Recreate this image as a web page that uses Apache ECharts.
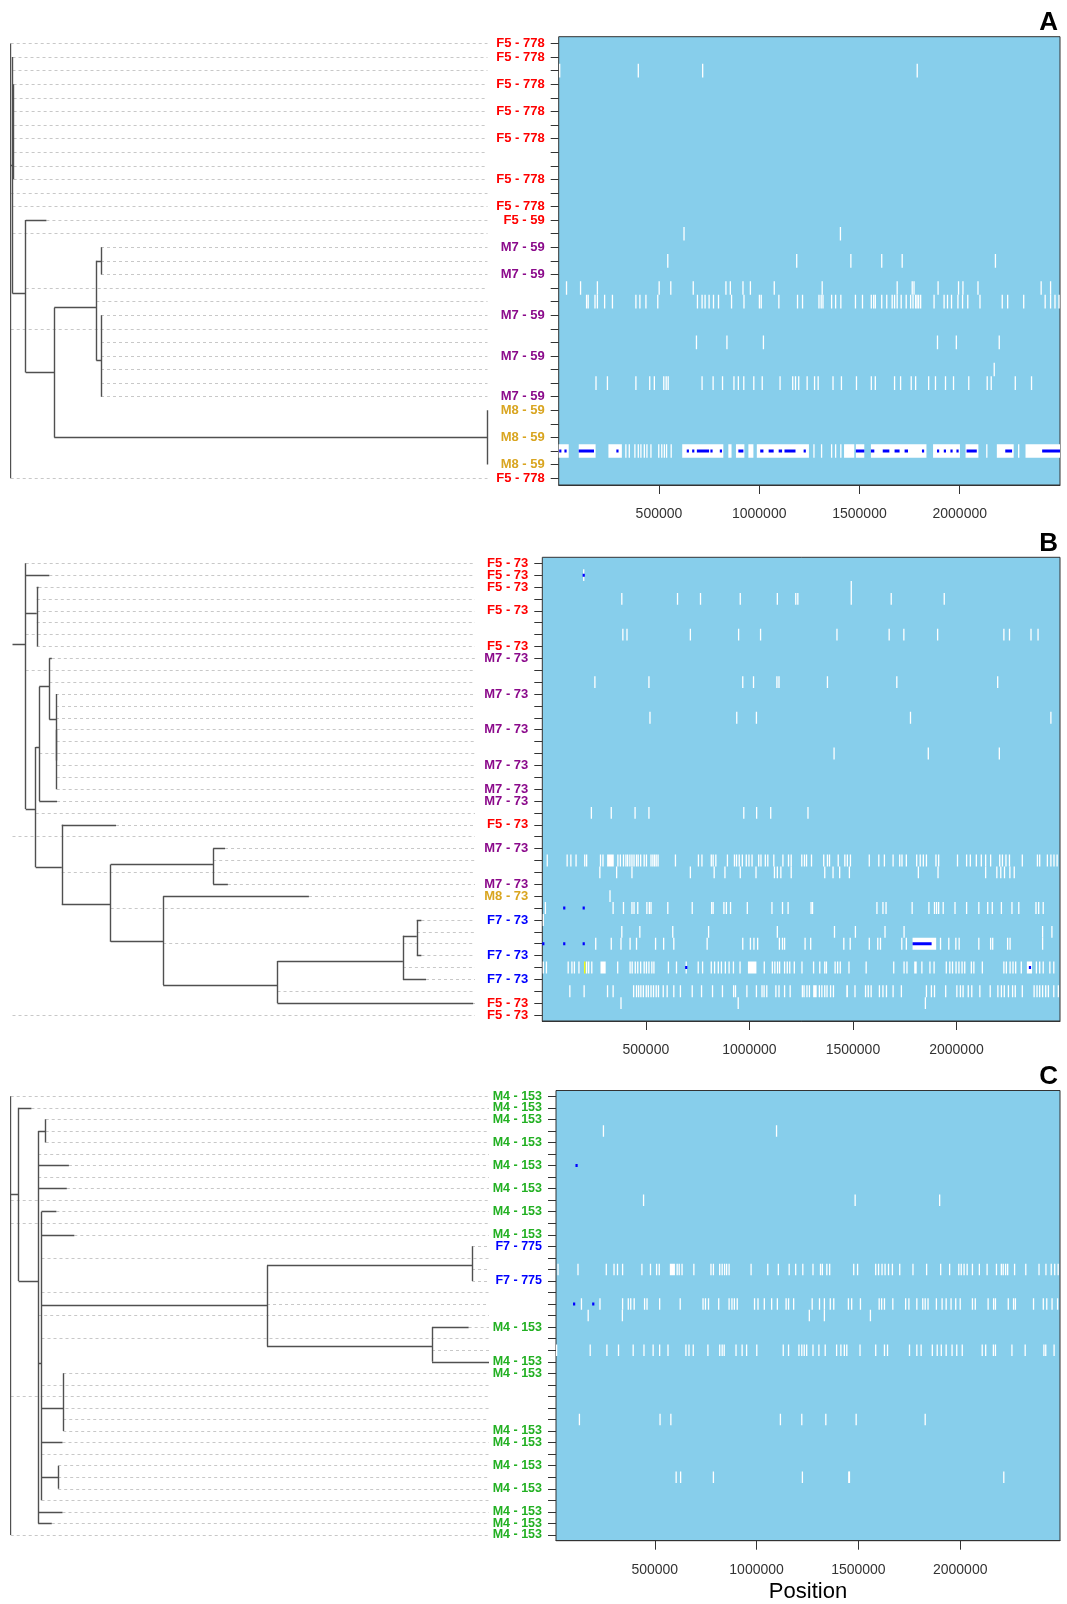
<!DOCTYPE html>
<html>
<head>
<meta charset="utf-8">
<script src="https://cdn.jsdelivr.net/npm/echarts@6/dist/echarts.min.js"></script>
<style>
  html, body { margin: 0; padding: 0; background: #ffffff; }
  #chart { width: 1067px; height: 1604px; }
</style>
</head>
<body>
<div id="chart"></div>
<script>
// ---------- row labels (top to bottom), '' = unlabeled row ----------
const labelsA = ['F5 - 778','F5 - 778','','F5 - 778','','F5 - 778','','F5 - 778','','','F5 - 778','','F5 - 778',
  'F5 - 59','','M7 - 59','','M7 - 59','','','M7 - 59','','','M7 - 59','','','M7 - 59',
  'M8 - 59','','M8 - 59','','M8 - 59','F5 - 778'];
const labelsB = ['F5 - 73','F5 - 73','F5 - 73','','F5 - 73','','','F5 - 73','M7 - 73','','','M7 - 73','','',
  'M7 - 73','','','M7 - 73','','M7 - 73','M7 - 73','','F5 - 73','','M7 - 73','','','M7 - 73','M8 - 73','',
  'F7 - 73','','','F7 - 73','','F7 - 73','','F5 - 73','F5 - 73'];
const labelsC = ['M4 - 153','M4 - 153','M4 - 153','','M4 - 153','','M4 - 153','','M4 - 153','','M4 - 153','',
  'M4 - 153','F7 - 775','','','F7 - 775','','','','M4 - 153','','','M4 - 153','M4 - 153','','','','',
  'M4 - 153','M4 - 153','','M4 - 153','','M4 - 153','','M4 - 153','M4 - 153','M4 - 153'];

// ---------- genome axis ----------
const positionTicks = [500000, 1000000, 1500000, 2000000];
const rangeA = [0, 2500000];
const rangeB = [0, 2500000];
const rangeC = [15000, 2490000];

// ---------- variant sites per row, in kb: number = site, [a, b] = run ----------
const whiteA = [
  [2, [5, 397, 718, 1788]],
  [14, [625, 1405]],
  [16, [544, 1187, 1457, 1611, 1713, 2178]],
  [18, [39,109,193,501,559,671,834,856,919,956,1075,1314,1688,1763,1772,1892,1994,2016,2091,2406,2453]],
  [19, [139,147,181,193,229,268,385,405,435,494,692,715,730,750,772,797,862,924,1001,1010,1098,1191,1216,1298,
        1309,1318,1361,1381,1407,1480,1515,1559,1571,1579,1611,1636,1663,1675,1688,1708,1733,1755,1767,1780,
        1787,1795,1805,1872,1922,1939,1959,1991,2014,2040,2101,2212,2239,2319,2426,2453,2475,2495]],
  [22, [687, 839, 1021, 1889, 1983, 2197]],
  [24, [2172]],
  [25, [186,243,385,454,477,524,536,546,715,770,817,874,896,923,973,1015,1104,1167,1181,1197,1239,1276,1294,
        1368,1410,1485,1559,1579,1675,1705,1758,1780,1845,1879,1929,1969,2045,2137,2157,2277,2358]],
  [30, [[0,50],[100,184],[248,315],335,352,380,397,410,427,440,460,499,514,527,538,561,[616,821],[846,862],
        [884,926],[946,971],[988,1248],1273,1311,1361,1381,1407,[1423,1474],[1482,1524],[1557,1834],
        [1867,2001],[2029,2093],2135,[2185,2269],2294,[2328,2500]]]
];
const blueA = [
  [30, [8,34,[100,176],293,[640,648],[667,675],[689,750],762,809,[896,921],[1005,1021],[1047,1072],
        [1097,1114],[1126,1181],[1223,1231],[1482,1524],[1557,1574],[1616,1649],[1675,1700],[1725,1742],
        1817,1892,1926,1959,1989,[2034,2085],[2227,2261],[2411,2500]]]
];

const whiteB = [
  [1, [200]],
  [2, [1492]],
  [3, [384,653,764,956,1135,1224,1234,1492,1685,1941]],
  [6, [389,409,715,948,1054,1423,1675,1746,1909,2229,2256,2360,2394]],
  [10, [254,515,968,1020,1133,1143,1377,1712,2199]],
  [13, [520,939,1034,1778,2456]],
  [16, [1409,1864,2207]],
  [21, [237,333,448,515,973,1035,1103,1283]],
  [25, [24,120,138,163,205,214,281,293,[313,345],365,377,392,404,412,423,433,443,455,463,475,492,503,525,534,
        542,550,559,643,754,771,816,825,838,894,928,938,951,966,985,998,1013,1045,1056,1077,1089,1118,1162,
        1189,1202,1253,1266,1276,1300,1359,1377,1387,1429,1461,1473,1488,1579,1625,1652,1694,1726,1737,1758,
        1808,1825,1840,1855,1901,1914,2005,2049,2067,2096,2120,2141,2165,2209,2222,2239,2256,2318,2391,2402,
        2439,2456,2471,2486]],
  [26, [278,359,433,715,830,882,956,1032,1121,1135,1152,1202,1364,1404,1436,1483,1816,1911,2141,2195,2214,
        2232,2258,2279]],
  [28, [327]],
  [29, [15,342,392,433,443,461,505,517,525,606,724,818,825,877,889,909,990,1109,1160,1187,1298,1305,1616,
        1645,1660,1786,1867,1894,1904,1914,1936,1993,2049,2108,2151,2173,2217,2268,2301,2384,2397,2419]],
  [30, [5]],
  [31, [384,471,630,803,1135,1411,1512,1655,1747,2416,2461]],
  [32, [258,333,380,424,455,547,586,635,796,968,1005,1022,1040,1145,1160,1170,1269,1296,1456,1487,1579,1620,
        1633,1736,1758,[1788,1902],1923,1963,1997,2013,2108,2165,2175,2247,2259,2416]],
  [34, [5,20,125,143,155,177,214,224,239,[281,306],364,424,434,449,461,475,492,503,515,529,539,609,648,695,
        753,774,816,832,850,865,884,902,923,955,[993,1034],1072,1111,1123,1136,1146,1170,1183,1195,1217,1254,
        1310,1340,1364,1372,1414,1426,1439,1481,1564,1697,1747,1761,[1796,1808],1833,1872,1892,1951,1968,
        1981,1998,2012,2027,2040,2072,2084,2125,2229,2241,2259,2273,2286,2313,[2340,2365],2386,2402,2419,
        2451,2470]],
  [36, [133,202,315,342,441,455,465,476,488,502,512,525,537,550,561,584,603,635,667,724,769,822,870,924,933,
        988,1034,1061,1071,1084,1128,1143,1170,1197,1256,1264,1278,1290,[1308,1325],1338,1350,1364,1375,
        1392,1406,[1468,1476],1510,1561,1574,1588,1628,1645,1662,1694,1734,1855,1879,1894,1948,2002,2019,
        2032,2057,2074,2113,2163,2200,2217,2231,2251,2271,2284,2318,2375,2389,2402,2416,2431,2444,2470,2492]],
  [37, [380, 946, 1850]]
];
const blueB = [
  [1, [200]],
  [29, [106, 200]],
  [32, [5, 106, 200, [1788, 1880]]],
  [34, [695, 2355]]
];
const yellowB = [
  [34, [205]]
];

const whiteC = [
  [3, [248, 1098]],
  [9, [445, 1484, 1899]],
  [15, [25,123,262,300,317,342,437,479,509,522,[574,599],610,620,634,692,776,788,819,831,843,853,865,973,
        1055,1107,1160,1192,1227,1277,1314,1323,1345,1359,1477,1496,1585,1599,1616,1631,1648,1667,1703,1768,
        1835,1904,1948,1993,2005,2019,2034,2060,2094,2132,2178,2202,2211,2223,2233,2267,2322,2387,2421,2447,
        2464,2481]],
  [18, [140,231,342,370,382,399,450,462,524,625,737,749,764,814,865,879,891,905,990,1007,1038,1074,1102,
        1145,1157,1182,1273,1309,1333,1362,1379,1451,1467,1510,1602,1614,1628,1669,1732,1748,1787,1816,1828,
        1842,1883,1911,1931,1955,1978,2000,2060,2074,2137,2164,2173,2236,2262,2271,2360,2408,2425,2451,2478]],
  [19, [173, 341, 1259, 1333, 1559]],
  [22, [18,183,265,322,394,447,492,524,565,653,668,689,761,819,831,841,899,929,951,1001,1131,1157,1208,1222,
        1234,1246,1277,1306,1337,1393,1414,1431,1443,1508,1585,1628,1643,1751,1787,1808,1863,1887,1907,1931,
        1960,1983,2010,2108,2125,2163,2173,2254,2319,2411,2420,2461]],
  [28, [130, 526, 579, 1117, 1222, 1340, 1489, 1828]],
  [33, [605, 627, 788, 1225, 1453, 1456, 2214]]
];
const blueC = [
  [6, [116]],
  [18, [104, 198]]
];

// ---------- clustering trees: node = {h, c}, leaf = row or [row, tipHeight] ----------
const treeA = {h: 0, c: [
  0,
  {h: 0.38, c: [1, 2, {h: 0.61, c: [3, 4, 5, 6, 7, 8, 9, 10]}, 12, 14,
    {h: 3.15, c: [[13, 7.49], 18,
      {h: 9.14, c: [
        {h: 17.97, c: [{h: 18.94, c: [15, 16, 17]}, 19, {h: 18.94, c: [20, 22, 23, 24, 25, 26]}]},
        {h: 100, c: [27, 28, 29, 30, 31]}
      ]}
    ]}
  ]},
  11, 21, 32
]};

const treeB = {h: 2.85, stem: 0, c: [
  0,
  [1, 7.96],
  {h: 5.25, c: [[2, 5.64], 3, 4, 5, 7]},
  6, 9,
  {h: 5.02, c: [
    {h: 5.79, c: [
      {h: 7.96, c: [[8, 8.5], 10, {h: 9.41, c: [11, 12, 13, {h: 9.55, c: [14, 15, 17, 18, 19]}]}]},
      16,
      [20, 9.64]
    ]},
    21,
    {h: 10.66, c: [
      [22, 22.38],
      26,
      {h: 21.23, c: [
        {h: 43.39, c: [[24, 45.95], 25, [27, 46.57]]},
        29,
        {h: 32.58, c: [
          [28, 64.09],
          32,
          {h: 57.3, c: [
            {h: 84.41, c: [{h: 87.42, c: [[30, 88.41], 31, [33, 88.41]]}, 34, [35, 89.41]]},
            36,
            [37, 99.6]
          ]}
        ]}
      ]}
    ]}
  ]}
]};

const treeC = {h: 0, c: [
  0,
  {h: 1.65, c: [[1, 4.33],
    {h: 5.75, c: [
      {h: 7.32, c: [2, 3, 4]},
      5, [6, 12.17], 7, [8, 11.73], 19,
      {h: 6.44, c: [
        [10, 9.55], [12, 13.3], 14, 17,
        {h: 53.59, c: [
          {h: 96.45, c: [13, 15, 16]},
          18,
          {h: 88.08, c: [[20, 95.74], 22, [23, 100]]}
        ]},
        21, 25, 27,
        {h: 10.98, c: [24, 28, 29]},
        [30, 10.83], 31,
        {h: 9.93, c: [32, 33, 34]},
        35
      ]},
      [36, 10.83], [37, 8.59]
    ]}
  ]},
  9, 11, 26, 38
]};

// ---------- styling ----------
const FONT = '"Liberation Sans", Arial, Helvetica, sans-serif';
const groupColor = {
  F5: '#FF0000', M7: '#8B0A8B', M8: '#D9A520', F7: '#0000FF', M4: '#22B022'
};
const siteFill = ['#FFFFFF', '#0000FF', '#FFFF00'];

// panel boxes in px
const panels = [
  {labels: labelsA, tree: treeA, range: rangeA, white: whiteA, blue: blueA, yellow: [],
   dendro: {left: 10.7, width: 476.8}, box: {left: 558.7, width: 501.3, top: 36.7, height: 448.3},
   fontSize: 13, letter: 'A', letterY: 23},
  {labels: labelsB, tree: treeB, range: rangeB, white: whiteB, blue: blueB, yellow: yellowB,
   dendro: {left: 12.5, width: 462.5}, box: {left: 542.3, width: 517.7, top: 557.3, height: 463.7},
   fontSize: 13, letter: 'B', letterY: 544},
  {labels: labelsC, tree: treeC, range: rangeC, white: whiteC, blue: blueC, yellow: [],
   dendro: {left: 10.7, width: 478.3}, box: {left: 556, width: 504, top: 1090.5, height: 450.2},
   fontSize: 12.5, letter: 'C', letterY: 1077, axisName: 'Position'}
];

// ---------- helpers ----------
function layoutTree(tree, nRows) {
  const segs = [];
  const tips = new Array(nRows).fill(0);
  function walk(node, parentH) {
    if (typeof node === 'number') node = [node, parentH];
    if (Array.isArray(node)) {
      const row = node[0], tip = node[1];
      if (tip > parentH) segs.push([[parentH, row], [tip, row]]);
      tips[row] = tip;
      return row;
    }
    const ys = node.c.map(ch => walk(ch, node.h));
    const y = ys.reduce((s, v) => s + v, 0) / ys.length;
    segs.push([[node.h, Math.min.apply(null, ys)], [node.h, Math.max.apply(null, ys)]]);
    if (node.h > parentH) segs.push([[parentH, y], [node.h, y]]);
    return y;
  }
  const rootY = walk(tree, tree.h);
  if (tree.stem != null) segs.push([[tree.stem, rootY], [tree.h, rootY]]);
  return {segs, tips};
}

function siteItems(list, kind) {
  const out = [];
  list.forEach(([row, sites]) => {
    sites.forEach(s => {
      const a = Array.isArray(s) ? s[0] : s;
      const b = Array.isArray(s) ? s[1] : s;
      out.push([a * 1000, b * 1000, row, kind]);
    });
  });
  return out;
}

function renderSite(params, api) {
  const a = api.value(0), b = api.value(1), row = api.value(2), kind = api.value(3);
  const p1 = api.coord([a, row]);
  const p2 = api.coord([b, row]);
  const band = api.size([0, 1])[1];
  const w = Math.max(p2[0] - p1[0], kind === 1 ? 2.2 : 1.3);
  const h = kind === 1 ? 3 : band;
  return {
    type: 'rect',
    shape: {x: (p1[0] + p2[0]) / 2 - w / 2, y: p1[1] - h / 2, width: w, height: h},
    style: {fill: siteFill[kind]}
  };
}

function richFor(size) {
  const r = {};
  Object.keys(groupColor).forEach(k => {
    r[k] = {color: groupColor[k], fontWeight: 'bold', fontSize: size, fontFamily: FONT};
  });
  return r;
}

// ---------- build option ----------
const grid = [], xAxis = [], yAxis = [], series = [], graphic = [];

panels.forEach((p, i) => {
  const n = p.labels.length;
  const gD = grid.length;
  grid.push({left: p.dendro.left, width: p.dendro.width, top: p.box.top, height: p.box.height,
             show: false, containLabel: false, outerBoundsMode: 'none'});
  const gH = grid.length;
  grid.push({left: p.box.left, width: p.box.width, top: p.box.top, height: p.box.height,
             show: true, backgroundColor: '#87CEEB', borderColor: '#333333', borderWidth: 1,
             containLabel: false, outerBoundsMode: 'none'});

  // dendrogram axes (hidden)
  xAxis.push({type: 'value', gridIndex: gD, min: 0, max: 100, show: false});
  yAxis.push({type: 'value', gridIndex: gD, min: -0.5, max: n - 0.5, inverse: true, show: false});

  // heatmap axes
  const xa = {
    type: 'value', gridIndex: gH, min: p.range[0], max: p.range[1],
    axisLine: {show: true, lineStyle: {color: '#333333', width: 1}},
    axisTick: {show: true, length: 9, customValues: positionTicks, lineStyle: {color: '#333333'}},
    axisLabel: {show: true, customValues: positionTicks, formatter: v => String(v),
                color: '#333333', fontSize: 14, fontFamily: FONT, margin: 22},
    splitLine: {show: false}
  };
  if (p.axisName) {
    xa.name = p.axisName;
    xa.nameLocation = 'middle';
    xa.nameGap = 40;
    xa.nameTextStyle = {fontSize: 22, color: '#000000', fontFamily: FONT};
  }
  xAxis.push(xa);

  const labels = p.labels;
  yAxis.push({
    type: 'category', gridIndex: gH, inverse: true, boundaryGap: true,
    data: labels.map((_, k) => 'row' + k),
    axisLine: {show: false},
    axisTick: {show: true, alignWithLabel: true, interval: 0, length: 8, inside: false,
               lineStyle: {color: '#333333'}},
    axisLabel: {
      interval: 0, margin: 14,
      formatter: (v, idx) => {
        const t = labels[idx];
        if (!t) return '';
        return '{' + t.slice(0, 2) + '|' + t + '}';
      },
      rich: richFor(p.fontSize)
    },
    splitLine: {show: false}
  });

  // tree and leader lines
  const lay = layoutTree(p.tree, n);
  const dashData = [];
  for (let r = 0; r < n; r++) {
    if (lay.tips[r] < 100) dashData.push({coords: [[lay.tips[r], r], [100, r]]});
  }
  series.push({
    type: 'lines', coordinateSystem: 'cartesian2d', xAxisIndex: gD, yAxisIndex: gD,
    data: dashData, silent: true, z: 1,
    lineStyle: {color: '#C8C8C8', width: 1, type: [3, 3], opacity: 1}
  });
  series.push({
    type: 'lines', coordinateSystem: 'cartesian2d', xAxisIndex: gD, yAxisIndex: gD,
    data: lay.segs.map(s => ({coords: s})), silent: true, z: 3,
    lineStyle: {color: '#505050', width: 1.4, opacity: 1}
  });

  // variant sites
  const items = siteItems(p.white, 0).concat(siteItems(p.yellow, 2), siteItems(p.blue, 1));
  series.push({
    type: 'custom', xAxisIndex: gH, yAxisIndex: gH, clip: true, silent: true,
    encode: {x: [0, 1], y: 2},
    data: items, renderItem: renderSite, z: 2
  });

  graphic.push({
    type: 'text', x: 1058, y: p.letterY, silent: true,
    style: {text: p.letter, font: 'bold 26px ' + FONT, fill: '#000000',
            align: 'right', verticalAlign: 'middle',
            textAlign: 'right', textVerticalAlign: 'middle'}
  });
});

const chart = echarts.init(document.getElementById('chart'), null, {renderer: 'canvas'});
chart.setOption({
  animation: false,
  backgroundColor: '#ffffff',
  textStyle: {fontFamily: FONT},
  grid, xAxis, yAxis, series, graphic
});
</script>
</body>
</html>
